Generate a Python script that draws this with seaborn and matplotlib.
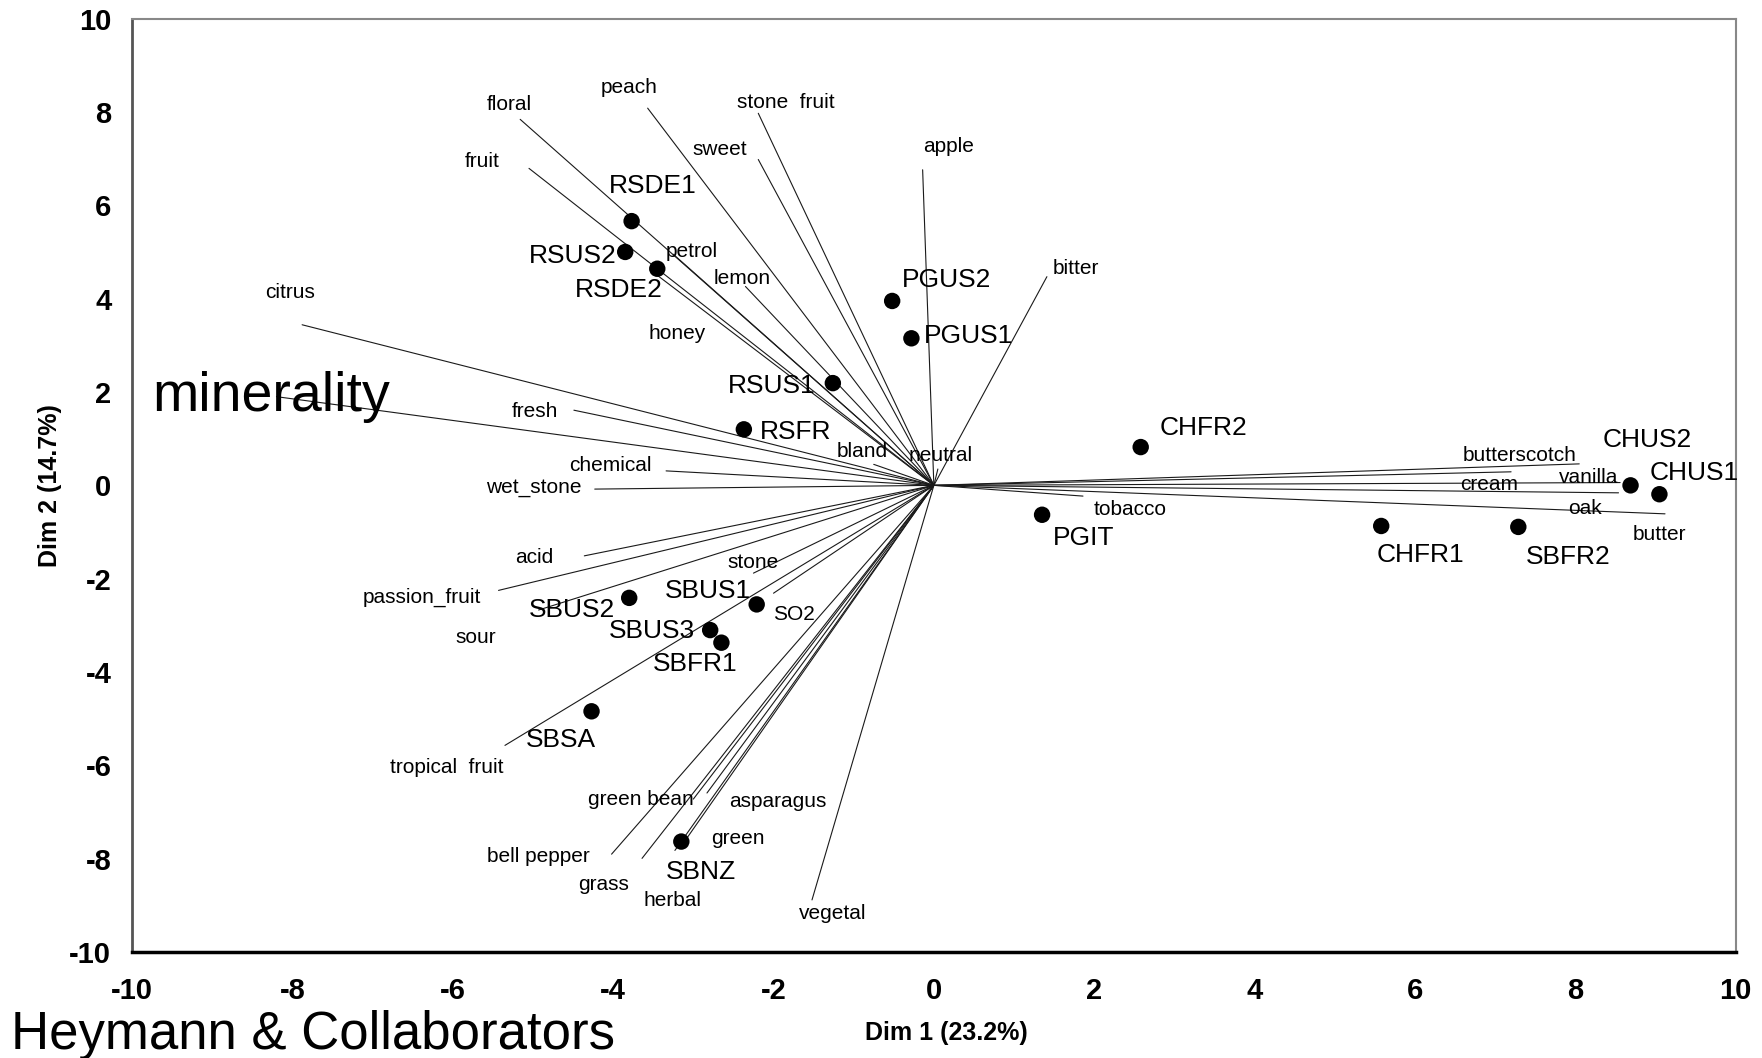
import numpy as np
import pandas as pd
import seaborn as sns
import matplotlib.pyplot as plt

sns.set_theme(style="white")
plt.rcParams["font.family"] = ["Liberation Sans", "DejaVu Sans"]
plt.rcParams["axes.unicode_minus"] = False
plt.rcParams["text.color"] = "black"
plt.rcParams["axes.labelcolor"] = "black"
plt.rcParams["xtick.color"] = "black"
plt.rcParams["ytick.color"] = "black"

# wine scores on the first two dimensions
wines = ["RSDE1", "RSUS2", "RSDE2", "RSUS1", "RSFR", "PGUS2", "PGUS1", "CHFR2",
         "PGIT", "CHFR1", "SBFR2", "CHUS2", "CHUS1", "SBUS2", "SBUS1", "SBUS3",
         "SBFR1", "SBSA", "SBNZ"]
dim1 = [-3.77, -3.85, -3.45, -1.26, -2.37, -0.52, -0.28, 2.58,
        1.35, 5.58, 7.29, 8.69, 9.05, -3.80, -2.21, -2.79,
        -2.65, -4.27, -3.15]
dim2 = [5.66, 5.00, 4.64, 2.19, 1.20, 3.95, 3.15, 0.82,
        -0.63, -0.87, -0.89, 0.00, -0.19, -2.41, -2.55, -3.10,
        -3.37, -4.84, -7.63]

# attribute loadings (vector ends)
attributes = ["floral", "fruit", "peach", "stone  fruit", "sweet", "apple", "bitter",
              "lemon", "petrol", "honey", "citrus", "minerality", "fresh", "chemical",
              "wet_stone", "acid", "passion_fruit", "sour", "stone", "SO2",
              "tropical  fruit", "green bean", "asparagus", "bell pepper", "grass",
              "herbal", "green", "vegetal", "bland", "neutral", "tobacco",
              "butterscotch", "cream", "vanilla", "oak", "butter"]
attr_x = [-5.16, -5.05, -3.57, -2.19, -2.19, -0.14, 1.41,
          -2.35, -3.25, -3.45, -7.88, -8.20, -4.49, -3.34,
          -4.23, -4.36, -5.43, -4.93, -2.25, -2.00,
          -5.35, -3.00, -2.83, -4.02, -3.64,
          -3.23, -3.07, -1.52, -0.75, 0.05, 1.86,
          8.05, 7.20, 8.56, 8.54, 9.12]
attr_y = [7.84, 6.79, 8.08, 7.97, 6.98, 6.76, 4.47,
          4.26, 4.95, 4.50, 3.44, 1.90, 1.61, 0.31,
          -0.08, -1.51, -2.25, -2.67, -1.88, -2.31,
          -5.57, -6.72, -6.59, -7.90, -7.99,
          -7.82, -7.53, -8.88, 0.45, 0.35, -0.23,
          0.46, 0.29, 0.06, -0.16, -0.61]

scores = pd.DataFrame({"wine": wines, "Dim1": dim1, "Dim2": dim2})
loadings = pd.DataFrame({"attribute": attributes, "Dim1": attr_x, "Dim2": attr_y})

# label placement, offsets in points
wine_offsets = {
    "RSDE1": (15, 25), "RSUS2": (-38, -3), "RSDE2": (-28, -15), "RSUS1": (-44, -2),
    "RSFR": (37, -2), "PGUS2": (39, 15), "PGUS1": (41, 2), "CHFR2": (45, 14),
    "PGIT": (30, -17), "CHFR1": (28, -21), "SBFR2": (36, -22), "CHUS2": (12, 33),
    "CHUS1": (25, 15), "SBUS2": (-41, -9), "SBUS1": (-35, 10), "SBUS3": (-42, -1),
    "SBFR1": (-19, -15), "SBSA": (-22, -21), "SBNZ": (14, -22),
}
attr_offsets = {
    "floral": (-8, 11), "fruit": (-34, 5), "peach": (-13, 15), "stone  fruit": (20, 8),
    "sweet": (-28, 7), "apple": (19, 17), "bitter": (21, 6), "lemon": (-2, 6),
    "petrol": (13, 2), "honey": (14, -42), "citrus": (-9, 23), "minerality": (-4, 0),
    "fresh": (-28, -1), "chemical": (-40, 4), "wet_stone": (-44, 1), "acid": (-36, -1),
    "passion_fruit": (-55, -5), "sour": (-45, -20), "stone": (0, 8), "SO2": (15, -15),
    "tropical  fruit": (-42, -16), "green bean": (-38, 0), "asparagus": (51, -6),
    "bell pepper": (-53, -2), "grass": (-28, -19), "herbal": (-2, -36), "green": (36, -1),
    "vegetal": (15, -10), "bland": (-8, 9), "neutral": (2, 10), "tobacco": (34, -10),
    "butterscotch": (-43, 6), "cream": (-16, -9), "vanilla": (-23, 4), "oak": (-24, -11),
    "butter": (-4, -15),
}

fig, ax = plt.subplots(figsize=(17.62, 10.58), dpi=100)
fig.subplots_adjust(left=0.075, right=0.985, top=0.9825, bottom=0.1)

# attribute vectors from the origin
for _, r in loadings.iterrows():
    ax.plot([0, r["Dim1"]], [0, r["Dim2"]], color="#1a1a1a", lw=0.8, zorder=1)
    dx, dy = attr_offsets[r["attribute"]]
    big = r["attribute"] == "minerality"
    ax.annotate(r["attribute"], (r["Dim1"], r["Dim2"]), xytext=(dx, dy),
                textcoords="offset points", ha="center", va="center",
                fontsize=40 if big else 15, color="black", zorder=3)

sns.scatterplot(data=scores, x="Dim1", y="Dim2", color="black", s=140,
                edgecolor="none", ax=ax, zorder=4)
for _, r in scores.iterrows():
    dx, dy = wine_offsets[r["wine"]]
    ax.annotate(r["wine"], (r["Dim1"], r["Dim2"]), xytext=(dx, dy),
                textcoords="offset points", ha="center", va="center",
                fontsize=19, color="black", zorder=5)

ax.set_xlim(-10, 10)
ax.set_ylim(-10, 10)
ax.set_xticks(np.arange(-10, 11, 2))
ax.set_yticks(np.arange(-10, 11, 2))
ax.tick_params(axis="both", direction="out", length=6, width=1.2, color="black",
               labelsize=21)
ax.tick_params(axis="x", pad=12)
ax.tick_params(axis="y", pad=9)
for lab in ax.get_xticklabels() + ax.get_yticklabels():
    lab.set_fontweight("bold")

ax.set_xlabel("Dim 1 (23.2%)", fontsize=18, fontweight="bold")
ax.set_ylabel("Dim 2 (14.7%)", fontsize=18, fontweight="bold")
ax.xaxis.set_label_coords(0.508, -0.074)
ax.yaxis.set_label_coords(-0.044, 0.5)

ax.spines["bottom"].set_color("black")
ax.spines["bottom"].set_linewidth(2.5)
ax.spines["left"].set_color("#555555")
ax.spines["left"].set_linewidth(2)
for side in ["top", "right"]:
    ax.spines[side].set_color("#888888")
    ax.spines[side].set_linewidth(1.5)

fig.text(0.006, 0.022, "Heymann & Collaborators", fontsize=38, ha="left", va="center")

plt.savefig("out.png", dpi=100, facecolor="white")
